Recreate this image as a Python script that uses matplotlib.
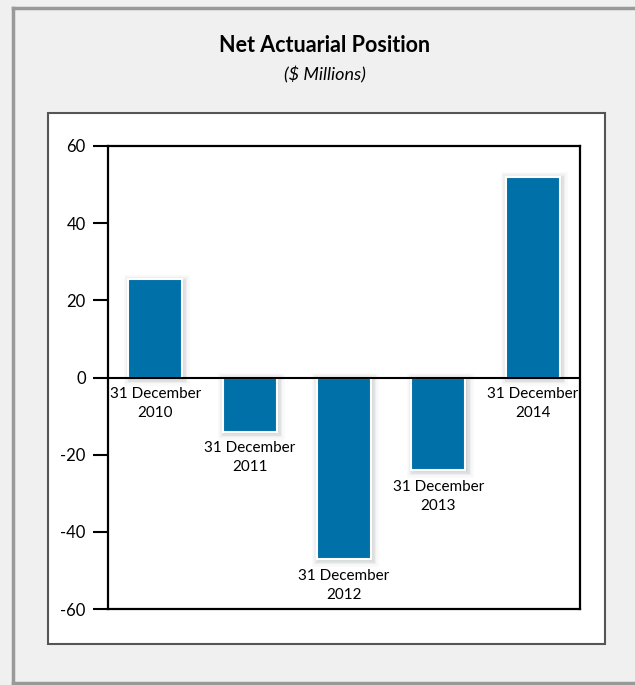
import matplotlib.pyplot as plt
import matplotlib.patheffects as pe
from matplotlib.patches import Rectangle

plt.rcParams['font.family'] = ['Lato', 'DejaVu Sans']
plt.rcParams['axes.unicode_minus'] = False

# Net actuarial position at each year end ($ millions)
years = ['2010', '2011', '2012', '2013', '2014']
values = [25.5, -14, -47, -24, 52]
labels = ['31 December\n' + y for y in years]

W, H = 635, 685
fig = plt.figure(figsize=(W / 100, H / 100), dpi=100)
fig.patch.set_facecolor('#f0f0f0')

def px(x0, y0, x1, y1):
    # pixel box (top-left origin) -> figure fraction rect
    return (x0 / W, 1 - y1 / H, (x1 - x0) / W, (y1 - y0) / H)

# outer frame lines (top, left, bottom)
fig.add_artist(plt.Line2D([13 / W, 1], [1 - 7.5 / H] * 2, color='#999999', lw=2.5))
fig.add_artist(plt.Line2D([13 / W] * 2, [1 - 7.5 / H, 1 - 683 / H], color='#999999', lw=2.5))
fig.add_artist(plt.Line2D([13 / W, 1], [1 - 683 / H] * 2, color='#999999', lw=2.5))

# white panel behind the chart
x, y, w, h = px(48, 113, 605, 644)
fig.add_artist(Rectangle((x, y), w, h, transform=fig.transFigure,
                         facecolor='white', edgecolor='#555555', lw=1.5))

fig.text(325 / W, 1 - 45 / H, 'Net Actuarial Position', ha='center', va='center',
         fontsize=15.5, fontweight='bold')
fig.text(325 / W, 1 - 75 / H, '($ Millions)', ha='center', va='center',
         fontsize=13, style='italic')

ax = fig.add_axes(px(108, 146, 580, 609))
ax.set_facecolor('none')
ax.set_zorder(5)

shadow = [pe.Stroke(linewidth=9, foreground='black', alpha=0.025, offset=(1, -1)),
          pe.Stroke(linewidth=6, foreground='black', alpha=0.04, offset=(1, -1)),
          pe.Stroke(linewidth=3.5, foreground='black', alpha=0.06, offset=(1, -1)),
          pe.Normal()]

pos = range(len(values))
bars = ax.bar(pos, values, width=0.57, color='#0070a8', edgecolor='white', linewidth=1.5,
              zorder=3)
for b in bars:
    b.set_path_effects(shadow)

ax.axhline(0, color='black', lw=1.5, zorder=4)

for i, v in enumerate(values):
    base = min(v, 0)
    ax.annotate(labels[i], (i, base), xytext=(0, -7), textcoords='offset points',
                ha='center', va='top', fontsize=11, linespacing=1.45, zorder=5)

ax.set_xlim(-0.5, len(values) - 0.5)
ax.set_ylim(-60, 60)
ax.set_yticks(range(-60, 61, 20))
ax.set_xticks([])
ax.tick_params(axis='y', length=11, width=1.5, labelsize=12, pad=5)
for s in ax.spines.values():
    s.set_linewidth(1.6)
    s.set_color('black')

fig.savefig('out.png', dpi=100, facecolor=fig.get_facecolor())
